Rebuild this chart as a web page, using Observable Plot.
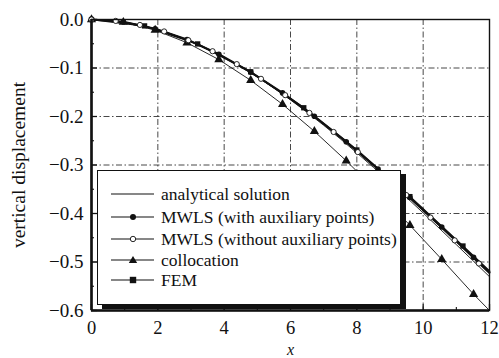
<!DOCTYPE html>
<html><head><meta charset="utf-8">
<script src="https://cdn.jsdelivr.net/npm/d3@7"></script>
<script src="https://cdn.jsdelivr.net/npm/@observablehq/plot@0.6"></script>
<style>
body{margin:0;background:#fff;}
#wrap{position:relative;width:499px;height:358px;overflow:hidden;font-family:"Liberation Serif",serif;}
#legend{position:absolute;left:97px;top:170px;width:302px;height:133px;background:#fff;border:1.4px solid #111;box-shadow:5px 4px 0 #111;}
#legend svg{position:absolute;left:0;top:0;overflow:visible}
</style></head><body><div id="wrap"></div>
<script>
// ---- data ----
const xTicks = [0, 2, 4, 6, 8, 10, 12];
const xMinor = [1, 3, 5, 7, 9, 11];
const yTicks = [0, -0.1, -0.2, -0.3, -0.4, -0.5, -0.6];
const yMinor = [-0.05, -0.15, -0.25, -0.35, -0.45, -0.55];
const yTickLabels = ["0.0", "−0.1", "−0.2", "−0.3", "−0.4", "−0.5", "−0.6"];
const xGrid = [2, 4, 6, 8, 10];
const yGrid = [-0.1, -0.2, -0.3, -0.4, -0.5];

const analyticalX = [0,0.5,1,1.5,2,2.5,3,3.5,4,4.5,5,5.5,6,6.5,7,7.5,8,8.5,9,9.5,10,10.5,11,11.5,12];
const analyticalY = [0,-0.0014,-0.0054,-0.0119,-0.0208,-0.0322,-0.0455,-0.0611,-0.0785,-0.0979,-0.1189,-0.1416,-0.1658,-0.1913,-0.2181,-0.2460,-0.2750,-0.3049,-0.3356,-0.3670,-0.3989,-0.4314,-0.4642,-0.4972,-0.5303];

const mwlsAuxX = [0,0.96,1.92,2.88,3.84,4.80,5.76,6.72,7.68,8.64,9.60,10.56,11.52,12];
const mwlsAuxY = [0,-0.0049,-0.0190,-0.0414,-0.0715,-0.1085,-0.1513,-0.1995,-0.2520,-0.3082,-0.3671,-0.4279,-0.4901,-0.5214];

const mwlsNoAuxX = [0,0.73,1.46,2.19,2.92,3.65,4.38,5.11,5.84,6.57,7.30,8.03,8.76,9.49,10.22,10.95,11.68,12];
const mwlsNoAuxY = [0,-0.0029,-0.0112,-0.0246,-0.0428,-0.0654,-0.0920,-0.1223,-0.1560,-0.1926,-0.2319,-0.2734,-0.3169,-0.3620,-0.4083,-0.4554,-0.5031,-0.5240];

const collocX = [0,0.96,1.92,2.88,3.84,4.80,5.76,6.72,7.68,8.64,9.60,10.56,11.52,12];
const collocY = [0,-0.0056,-0.0219,-0.0479,-0.0827,-0.1254,-0.1749,-0.2306,-0.2913,-0.3562,-0.4242,-0.4946,-0.5665,-0.6000];

const femX = [0,1.6,3.2,4.8,6.4,8.0,9.6,11.2,12];
const femY = [0,-0.0132,-0.0504,-0.1079,-0.1820,-0.2690,-0.3652,-0.4670,-0.5188];

const legendLabels = ["analytical solution","MWLS (with auxiliary points)","MWLS (without auxiliary points)","collocation","FEM"];

// ---- build ----
const zip = (xs, ys) => xs.map((x, i) => ({x, y: ys[i]}));
const analytical = zip(analyticalX, analyticalY);
const mwlsAux = zip(mwlsAuxX, mwlsAuxY);
const mwlsNoAux = zip(mwlsNoAuxX, mwlsNoAuxY);
const colloc = zip(collocX, collocY);
const fem = zip(femX, femY);

const W = 499, H = 358, mL = 91, mR = 10, mT = 19, mB = 48;
const fw = W - mL - mR, fh = H - mT - mB;
const ink = "#111";
const serif = "Liberation Serif";
const grid = {stroke: "#333", strokeWidth: 0.9, strokeDasharray: "6,2.5,1.5,2.5"};

const plot = Plot.plot({
  width: W, height: H,
  marginLeft: mL, marginRight: mR, marginTop: mT, marginBottom: mB,
  x: {domain: [0, 12]},
  y: {domain: [-0.6, 0]},
  style: {fontFamily: serif, fontSize: "17px", color: ink, background: "white"},
  marks: [
    Plot.ruleX(xGrid, grid),
    Plot.ruleY(yGrid, grid),
    Plot.line(colloc, {x: "x", y: "y", stroke: ink, strokeWidth: 0.9}),
    Plot.line(analytical, {x: "x", y: "y", stroke: ink, strokeWidth: 0.9, curve: "natural"}),
    Plot.line(mwlsNoAux, {x: "x", y: "y", stroke: ink, strokeWidth: 1.1}),
    Plot.line(fem, {x: "x", y: "y", stroke: ink, strokeWidth: 1.6}),
    Plot.line(mwlsAux, {x: "x", y: "y", stroke: ink, strokeWidth: 2.2}),
    Plot.dot(colloc.slice(0, -1), {x: "x", y: "y", symbol: "triangle", r: 3.4, fill: ink, stroke: "none"}),
    Plot.dot(fem.slice(0, -1), {x: "x", y: "y", symbol: "square", r: 3, fill: ink, stroke: "none"}),
    Plot.dot(mwlsAux.slice(0, -1), {x: "x", y: "y", r: 2.8, fill: ink, stroke: "none"}),
    Plot.dot(mwlsNoAux.slice(0, -1), {x: "x", y: "y", r: 2.6, fill: "white", stroke: ink, strokeWidth: 0.9}),
    Plot.frame({stroke: ink, strokeWidth: 1.4}),
    Plot.ruleX([0], {stroke: ink, strokeWidth: 2.6}),
    Plot.ruleY([-0.6], {stroke: ink, strokeWidth: 2.6}),
    Plot.ruleX(xTicks, {stroke: ink, strokeWidth: 1.3, insetTop: fh - 6}),
    Plot.ruleX(xMinor, {stroke: ink, strokeWidth: 1.1, insetTop: fh - 3}),
    Plot.ruleY(yTicks, {stroke: ink, strokeWidth: 1.3, insetRight: fw - 6}),
    Plot.ruleY(yMinor, {stroke: ink, strokeWidth: 1.1, insetRight: fw - 3}),
    Plot.axisX({ticks: xTicks, tickSize: 0, tickPadding: 10, tickFormat: d => String(d), label: null, fontSize: 18.5, fontFamily: serif}),
    Plot.axisY({ticks: yTicks, tickSize: 0, tickPadding: 8, tickFormat: d => yTickLabels[yTicks.indexOf(d)], label: null, fontSize: 19, fontFamily: serif}),
    Plot.text(["x"], {frameAnchor: "bottom", dy: 39, lineAnchor: "middle", fontStyle: "italic", fontSize: 16, fontFamily: serif, fill: ink}),
    Plot.text(["vertical displacement"], {frameAnchor: "left", textAnchor: "middle", dx: -73, rotate: -90, fontSize: 19.5, fontFamily: serif, fill: ink})
  ]
});
const wrap = document.getElementById("wrap");
wrap.appendChild(plot);

// legend overlay
const leg = document.createElement("div");
leg.id = "legend";
const rowsY = [23, 46, 68, 89, 109];
const ns = "http://www.w3.org/2000/svg";
const svg = document.createElementNS(ns, "svg");
svg.setAttribute("width", 302); svg.setAttribute("height", 133);
let s = "";
legendLabels.forEach((t, i) => {
  const y = rowsY[i];
  s += `<line x1="13" x2="56" y1="${y}" y2="${y}" stroke="${ink}" stroke-width="1.1"/>`;
  if (i === 1) s += `<circle cx="35" cy="${y}" r="3" fill="${ink}"/>`;
  if (i === 2) s += `<circle cx="35" cy="${y}" r="2.7" fill="white" stroke="${ink}" stroke-width="0.9"/>`;
  if (i === 3) s += `<path d="M35,${y-4} L39.2,${y+3} L30.8,${y+3} Z" fill="${ink}"/>`;
  if (i === 4) s += `<rect x="31.8" y="${y-3.2}" width="6.4" height="6.4" fill="${ink}"/>`;
  s += `<text x="63" y="${y}" dy="0.35em" font-family="${serif}" font-size="17.5" fill="${ink}">${t}</text>`;
});
svg.innerHTML = s;
leg.appendChild(svg);
wrap.appendChild(leg);
</script>
</body></html>
